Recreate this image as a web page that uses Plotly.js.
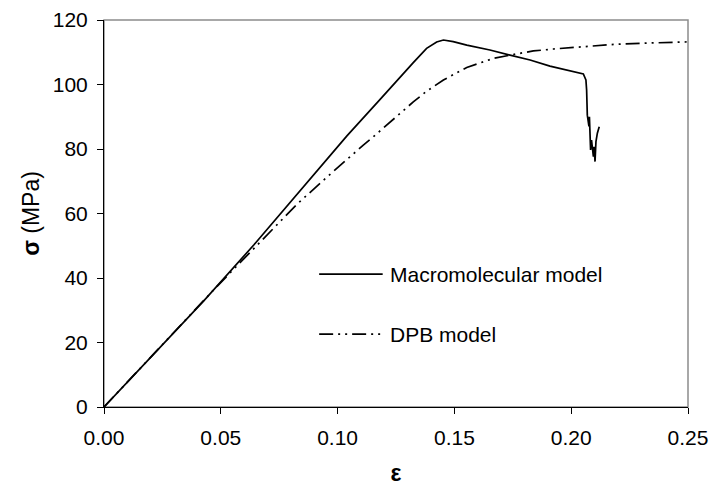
<!DOCTYPE html>
<html>
<head>
<meta charset="utf-8">
<script src="https://cdn.plot.ly/plotly-3.0.1.min.js"></script>
<style>html,body{margin:0;padding:0;background:#fff;}#chart{width:715px;height:496px;}</style>
</head>
<body>
<div id="chart"></div>
<script>
// Macromolecular model (solid)
var macroStrain = [0, 0.02, 0.0428, 0.0642, 0.0856, 0.1039, 0.1182, 0.1253, 0.1324, 0.1381, 0.1424, 0.1453, 0.1495, 0.1553, 0.1652, 0.1738, 0.1824, 0.1909, 0.198, 0.2052, 0.2063, 0.2066, 0.2069, 0.2073, 0.2076, 0.2078, 0.2083, 0.2087, 0.2095, 0.2098, 0.2102, 0.2106, 0.2112, 0.212];
var macroStress = [0, 15.5, 33.0, 50.3, 68.6, 84.0, 95.4, 101.2, 106.8, 111.2, 113.2, 113.8, 113.3, 112.2, 110.7, 109.1, 107.6, 105.7, 104.5, 103.3, 101.4, 98.3, 90.5, 89.0, 87.0, 90.0, 79.7, 82.8, 77.6, 80.7, 76.1, 82.3, 84.9, 86.9];
// DPB model (dash-dot-dot)
var dpbStrain = [0, 0.02, 0.0485, 0.0571, 0.0713, 0.0828, 0.0953, 0.1053, 0.111, 0.1153, 0.1224, 0.1324, 0.1381, 0.1453, 0.1553, 0.1667, 0.1752, 0.1838, 0.1923, 0.2095, 0.2195, 0.235, 0.25];
var dpbStress = [0, 15.5, 37.5, 43.9, 54.4, 63.0, 71.2, 77.7, 81.2, 83.8, 88.3, 94.6, 97.9, 101.4, 105.3, 108.1, 109.3, 110.4, 111.0, 112.0, 112.5, 112.9, 113.2];
var seriesNames = ["Macromolecular model", "DPB model"];
var xTicks = [0, 0.05, 0.10, 0.15, 0.20, 0.25];
var xTickText = ["0.00", "0.05", "0.10", "0.15", "0.20", "0.25"];
var yTicks = [0, 20, 40, 60, 80, 100, 120];

var FONT = "Liberation Sans, Arial, sans-serif";
var dpbDash = "14px,5px,2px,5px,2px,5px";

var traces = [
  {x: macroStrain, y: macroStress, mode: "lines", name: seriesNames[0],
   line: {color: "#000", width: 1.7}, showlegend: false, hoverinfo: "skip"},
  {x: dpbStrain, y: dpbStress, mode: "lines", name: seriesNames[1],
   line: {color: "#000", width: 1.7, dash: dpbDash}, showlegend: false, hoverinfo: "skip"}
];

var layout = {
  width: 715, height: 496,
  margin: {l: 104, r: 27, t: 20, b: 89},
  paper_bgcolor: "#fff", plot_bgcolor: "#fff",
  font: {family: FONT, color: "#000", size: 21},
  xaxis: {
    range: [0, 0.25], tickvals: xTicks, ticktext: xTickText,
    showgrid: false, zeroline: false, showline: true, linecolor: "#000", linewidth: 1,
    ticks: "outside", ticklen: 6, tickcolor: "#000", tickfont: {size: 21, family: FONT},
    ticklabelstandoff: 6,
    title: {text: "<b>ε</b>", font: {size: 23, family: FONT}, standoff: 16}
  },
  yaxis: {
    range: [0, 120], tickvals: yTicks,
    showgrid: false, zeroline: false, showline: true, linecolor: "#000", linewidth: 1,
    ticks: "outside", ticklen: 6, tickcolor: "#000", tickfont: {size: 21, family: FONT},
    ticklabelstandoff: 5,
    title: {text: "<b>σ</b> (MPa)", font: {size: 23, family: FONT}, standoff: 6}
  },
  shapes: [
    {type: "rect", xref: "paper", yref: "paper", x0: 0, x1: 1, y0: 0, y1: 1,
     line: {color: "#8c8c8c", width: 1.5}, layer: "below"},
    {type: "line", xref: "x", yref: "y", x0: 0.0921, x1: 0.1193, y0: 41.2, y1: 41.2,
     line: {color: "#000", width: 1.7}},
    {type: "line", xref: "x", yref: "y", x0: 0.0921, x1: 0.1193, y0: 22.6, y1: 22.6,
     line: {color: "#000", width: 1.7, dash: dpbDash}}
  ],
  annotations: [
    {xref: "x", yref: "y", x: 0.1215, y: 41.2, text: seriesNames[0], showarrow: false,
     xanchor: "left", yanchor: "middle", font: {size: 21, family: FONT}},
    {xref: "x", yref: "y", x: 0.1215, y: 22.6, text: seriesNames[1], showarrow: false,
     xanchor: "left", yanchor: "middle", font: {size: 21, family: FONT}}
  ]
};

Plotly.newPlot("chart", traces, layout, {staticPlot: true, displayModeBar: false});
</script>
</body>
</html>
